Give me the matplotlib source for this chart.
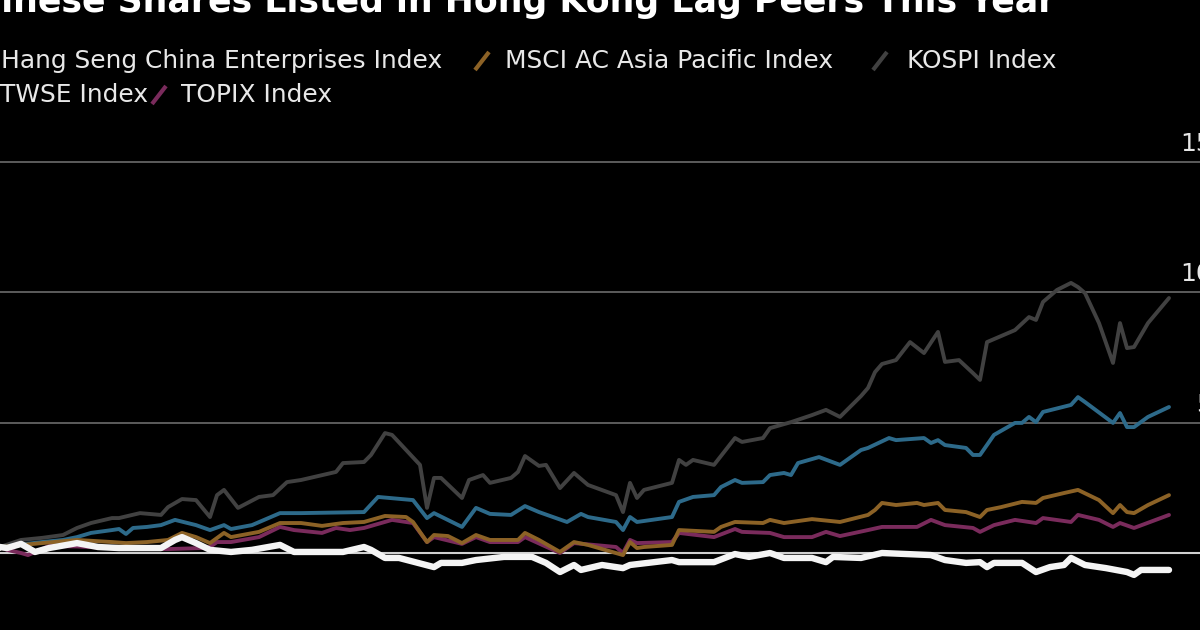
import matplotlib
matplotlib.use("Agg")
import matplotlib.pyplot as plt
import matplotlib.transforms as mtransforms
from matplotlib.lines import Line2D

# --- data (percent change since start of year, by calendar day) ---
kospi_day = [0, 1, 4, 7, 10, 12, 14, 17, 18, 21, 24, 25, 27, 29, 31, 32, 33, 35, 38, 40,
             42, 44, 49, 50, 53, 54, 56, 57, 61, 62, 63, 64, 67, 68, 70, 71, 74, 75, 76, 78,
             79, 81, 83, 85, 89, 90, 91, 92, 93, 97, 98, 99, 100, 103, 106, 107, 110, 111, 114, 117,
             119, 121, 124, 125, 126, 127, 129, 131, 133, 135, 136, 138, 140, 141, 142, 146, 148, 149, 150, 152,
             154, 155, 156, 158, 160, 161, 162, 163, 165, 168]
kospi = [0.0, 0.23, 0.50, 0.58, 0.69, 0.96, 1.15, 1.34, 1.34, 1.53, 1.46, 1.76, 2.07, 2.03, 1.38, 2.22, 2.42, 1.73, 2.15, 2.22,
         2.72, 2.80, 3.11, 3.45, 3.49, 3.76, 4.60, 4.53, 3.38, 1.73, 2.88, 2.88, 2.11, 2.80, 2.99, 2.69, 2.88, 3.11, 3.72, 3.34,
         3.38, 2.49, 3.07, 2.61, 2.22, 1.57, 2.69, 2.11, 2.42, 2.69, 3.57, 3.38, 3.57, 3.38, 4.41, 4.26, 4.41, 4.79, 5.02, 5.29,
         5.49, 5.22, 6.02, 6.33, 6.94, 7.25, 7.40, 8.09, 7.67, 8.48, 7.33, 7.40, 6.90, 6.64, 8.09, 8.55, 9.05, 8.94, 9.63, 10.09,
         10.36, 10.20, 9.97, 8.82, 7.29, 8.82, 7.86, 7.90, 8.82, 9.78]

twse_day = [0, 1, 7, 10, 12, 14, 17, 18, 19, 20, 22, 24, 26, 29, 31, 33, 34, 37, 41, 44,
            53, 55, 60, 62, 63, 67, 69, 71, 74, 76, 78, 82, 84, 85, 89, 90, 91, 92, 97, 98,
            100, 103, 104, 106, 107, 110, 111, 113, 114, 115, 118, 121, 124, 125, 128, 129, 133, 134, 135, 136,
            139, 140, 141, 143, 146, 147, 148, 149, 150, 154, 155, 156, 160, 161, 162, 163, 165, 168]
twse = [0.0, 0.23, 0.42, 0.50, 0.61, 0.77, 0.88, 0.92, 0.73, 0.96, 1.00, 1.07, 1.27, 1.07, 0.88, 1.07, 0.92, 1.07, 1.53, 1.53,
        1.57, 2.15, 2.03, 1.34, 1.53, 1.00, 1.73, 1.50, 1.46, 1.80, 1.57, 1.19, 1.50, 1.38, 1.19, 0.88, 1.38, 1.19, 1.38, 1.96,
        2.15, 2.22, 2.53, 2.80, 2.69, 2.72, 2.99, 3.07, 2.99, 3.45, 3.68, 3.38, 3.95, 4.03, 4.41, 4.33, 4.41, 4.22, 4.33, 4.14,
        4.03, 3.76, 3.76, 4.53, 4.99, 4.99, 5.22, 5.02, 5.41, 5.68, 5.98, 5.79, 4.99, 5.37, 4.83, 4.83, 5.22, 5.60]

msci_day = [0, 1, 7, 12, 17, 19, 22, 25, 27, 29, 31, 33, 34, 38, 41, 44, 47, 50, 53, 56,
            59, 60, 62, 63, 65, 67, 69, 71, 75, 76, 78, 81, 83, 85, 90, 91, 92, 93, 97, 98,
            103, 104, 106, 110, 111, 113, 117, 121, 125, 126, 127, 129, 132, 133, 135, 136, 139, 141, 142, 144,
            147, 149, 150, 153, 155, 158, 160, 161, 162, 163, 165, 168]
msci = [0.0, 0.23, 0.38, 0.50, 0.42, 0.38, 0.42, 0.50, 0.77, 0.61, 0.38, 0.77, 0.61, 0.81, 1.15, 1.15, 1.04, 1.15, 1.19, 1.42,
        1.38, 1.19, 0.42, 0.69, 0.65, 0.38, 0.69, 0.50, 0.50, 0.77, 0.50, 0.04, 0.42, 0.31, -0.08, 0.42, 0.19, 0.23, 0.31, 0.88,
        0.81, 1.00, 1.19, 1.15, 1.27, 1.15, 1.30, 1.19, 1.46, 1.65, 1.92, 1.84, 1.92, 1.84, 1.92, 1.65, 1.57, 1.38, 1.65, 1.76,
        1.96, 1.92, 2.11, 2.30, 2.42, 2.03, 1.53, 1.84, 1.57, 1.53, 1.84, 2.22]

topix_day = [0, 1, 2, 4, 5, 8, 12, 17, 25, 30, 31, 32, 34, 38, 41, 43, 47, 49, 51, 53,
             57, 60, 62, 63, 67, 69, 71, 75, 76, 81, 83, 89, 90, 91, 92, 97, 98, 103, 106, 107,
             111, 113, 117, 119, 121, 125, 127, 132, 134, 136, 140, 141, 143, 146, 149, 150, 154, 155, 158, 160,
             161, 163, 168]
topix = [0.0, 0.23, 0.12, 0.0, -0.08, 0.27, 0.25, 0.19, 0.15, 0.19, 0.23, 0.42, 0.42, 0.61, 1.00, 0.88, 0.77, 0.96, 0.88, 0.96,
         1.27, 1.15, 0.42, 0.61, 0.35, 0.61, 0.42, 0.42, 0.61, 0.0, 0.38, 0.23, 0.0, 0.50, 0.38, 0.42, 0.77, 0.61, 0.92, 0.81,
         0.77, 0.61, 0.61, 0.81, 0.65, 0.88, 1.00, 1.00, 1.27, 1.07, 0.96, 0.81, 1.07, 1.27, 1.15, 1.34, 1.19, 1.46, 1.27, 1.00,
         1.15, 0.96, 1.46]

hscei_day = [0, 1, 2, 4, 6, 8, 12, 15, 18, 21, 24, 26, 27, 29, 31, 34, 37, 41, 43, 50,
             53, 54, 56, 58, 63, 64, 67, 69, 73, 77, 79, 81, 83, 84, 87, 90, 91, 97, 98, 103,
             106, 108, 111, 113, 117, 119, 120, 124, 127, 134, 136, 139, 141, 142, 143, 147, 149, 151, 153, 154,
             156, 159, 162, 163, 164, 168]
hscei = [0.0, 0.23, 0.19, 0.35, 0.04, 0.19, 0.38, 0.23, 0.19, 0.19, 0.19, 0.50, 0.61, 0.38, 0.12, 0.04, 0.12, 0.31, 0.04, 0.04,
         0.23, 0.12, -0.19, -0.19, -0.54, -0.38, -0.38, -0.27, -0.15, -0.15, -0.38, -0.73, -0.46, -0.65, -0.46, -0.58, -0.46, -0.27, -0.35, -0.35,
         -0.04, -0.15, 0.0, -0.19, -0.19, -0.35, -0.15, -0.19, 0.0, -0.08, -0.27, -0.38, -0.35, -0.54, -0.38, -0.38, -0.73, -0.54, -0.46, -0.19,
         -0.46, -0.58, -0.73, -0.84, -0.65, -0.65]

y_ticks = [5, 10, 15]

names = ["Hang Seng China Enterprises Index", "MSCI AC Asia Pacific Index", "KOSPI Index",
         "TWSE Index", "TOPIX Index"]
colors = {"hscei": "#f4f4f4", "msci": "#8c6226", "kospi": "#414141",
          "twse": "#2d6a8a", "topix": "#7a2b5c"}

# --- figure ---
fig = plt.figure(figsize=(12, 6.3), dpi=100, facecolor="black")
ax = fig.add_axes([0, 0, 1, 500 / 630])
ax.set_facecolor("black")
ax.set_xlim(1, 1 + 1200 / 7.0)
ax.set_ylim(-77 / 26.07, 423 / 26.07)
ax.axis("off")

for v in y_ticks:
    ax.axhline(v, color="#6b6b6b", lw=1.2, zorder=1)
ax.axhline(0, color="#d0d0d0", lw=1.5, zorder=1)

# tick labels sit above the gridlines at the right edge (cropped in the source)
lab_tr = mtransforms.offset_copy(ax.get_yaxis_transform(), fig=fig, x=12, y=11, units="dots")
for v in y_ticks:
    ax.text(1.0, v, str(v), transform=lab_tr, ha="right", va="baseline",
            color="#e6e6e6", fontsize=18, clip_on=False)

kw = dict(solid_joinstyle="round", solid_capstyle="round")
ax.plot(kospi_day, kospi, color=colors["kospi"], lw=2.8, zorder=2, **kw)
ax.plot(twse_day, twse, color=colors["twse"], lw=2.8, zorder=3, **kw)
ax.plot(topix_day, topix, color=colors["topix"], lw=2.8, zorder=4, **kw)
ax.plot(msci_day, msci, color=colors["msci"], lw=2.8, zorder=5, **kw)
ax.plot(hscei_day, hscei, color=colors["hscei"], lw=4.6, zorder=6, **kw)

# --- title (cropped at top/left in the source) ---
fig.text(1055 / 1200, 618 / 630, "Chinese Shares Listed in Hong Kong Lag Peers This Year",
         ha="right", va="baseline", color="white", fontsize=25, fontweight="bold")

# --- legend ---
def legend_item(x_mark, y_top, color, label, x_text):
    yc = 630 - y_top
    fig.add_artist(Line2D([(x_mark + 2) / 1200, (x_mark + 16) / 1200],
                          [(yc - 9) / 630, (yc + 9) / 630],
                          color=color, lw=3, solid_capstyle="butt"))
    fig.text(x_text / 1200, yc / 630, label, ha="left", va="center",
             color="#e8e8e8", fontsize=17.9)

legend_item(-32, 61, colors["hscei"], names[0], 1)
legend_item(473, 61, colors["msci"], names[1], 505)
legend_item(871, 61, colors["kospi"], names[2], 907)
legend_item(-32, 95, colors["twse"], names[3], 0)
legend_item(150, 95, colors["topix"], names[4], 181)

fig.savefig("out.png", dpi=100, facecolor="black")
